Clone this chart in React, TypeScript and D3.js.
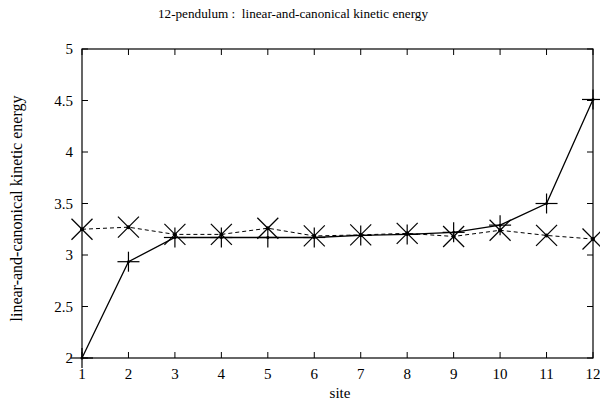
import React from "react";
import * as d3 from "d3";

const sites = [1, 2, 3, 4, 5, 6, 7, 8, 9, 10, 11, 12];
const linearKE = [2.0, 2.935, 3.17, 3.17, 3.17, 3.17, 3.19, 3.2, 3.22, 3.29, 3.5, 4.51];
const canonicalKE = [3.25, 3.27, 3.2, 3.2, 3.26, 3.185, 3.195, 3.21, 3.18, 3.24, 3.19, 3.155];
const yTicks = [2, 2.5, 3, 3.5, 4, 4.5, 5];
const title = "12-pendulum :  linear-and-canonical kinetic energy";
const yLabel = "linear-and-canonical kinetic energy";
const xLabel = "site";

const W = 600, H = 405;
const m = { left: 82, right: 7, top: 49, bottom: 47 };
const FONT = "Liberation Serif";

export default function App() {
  const x = d3.scaleLinear().domain([1, 12]).range([m.left, W - m.right]);
  const y = d3.scaleLinear().domain([2, 5]).range([H - m.bottom, m.top]);
  const line = d3.line<number>().x((_, i) => x(sites[i])).y((d) => y(d));
  const ts = (size: number) => ({ fontFamily: FONT, fontSize: size, whiteSpace: "pre" as const });
  const tl = 6;
  const x0 = x(1), x1 = x(12), y0 = y(2), y1 = y(5);
  return (
    <svg width={W} height={H} style={{ position: "absolute", left: 0, top: 0, background: "#fff" }}>
      <rect width={W} height={H} fill="#fff" />
      <text x={293} y={18} textAnchor="middle" style={ts(13.2)}>{title}</text>
      <rect x={x0} y={y1} width={x1 - x0} height={y0 - y1} fill="none" stroke="#000" strokeWidth={1.2} />
      {sites.map((s) => (
        <g key={"xt" + s}>
          <line x1={x(s)} x2={x(s)} y1={y0} y2={y0 - tl} stroke="#000" />
          <line x1={x(s)} x2={x(s)} y1={y1} y2={y1 + tl} stroke="#000" />
          <text x={x(s)} y={y0 + 21} textAnchor="middle" style={ts(15)}>{s}</text>
        </g>
      ))}
      {yTicks.map((t) => (
        <g key={"yt" + t}>
          <line x1={x0} x2={x0 + tl} y1={y(t)} y2={y(t)} stroke="#000" />
          <line x1={x1} x2={x1 - tl} y1={y(t)} y2={y(t)} stroke="#000" />
          <text x={x0 - 9} y={y(t) + 5} textAnchor="end" style={ts(15)}>{t}</text>
        </g>
      ))}
      <text x={W / 2 + 40} y={398} textAnchor="middle" style={ts(15)}>{xLabel}</text>
      <text transform={`translate(22,${(y0 + y1) / 2 + 5}) rotate(-90)`} textAnchor="middle" style={ts(16)}>{yLabel}</text>
      <path d={line(canonicalKE) || ""} fill="none" stroke="#000" strokeWidth={1} strokeDasharray="4,3" />
      <path d={line(linearKE) || ""} fill="none" stroke="#000" strokeWidth={1.3} />
      {linearKE.map((v, i) => (
        <g key={"p" + i} stroke="#000" strokeWidth={1.2}>
          <line x1={x(sites[i]) - 11} x2={x(sites[i]) + 11} y1={y(v)} y2={y(v)} />
          <line x1={x(sites[i])} x2={x(sites[i])} y1={y(v) - 10} y2={y(v) + 10} />
          <circle cx={x(sites[i])} cy={y(v)} r={1.5} fill="#000" stroke="none" />
        </g>
      ))}
      {canonicalKE.map((v, i) => (
        <g key={"c" + i} stroke="#000" strokeWidth={1.2}>
          <line x1={x(sites[i]) - 10.5} x2={x(sites[i]) + 10.5} y1={y(v) - 10.5} y2={y(v) + 10.5} />
          <line x1={x(sites[i]) - 10.5} x2={x(sites[i]) + 10.5} y1={y(v) + 10.5} y2={y(v) - 10.5} />
          <circle cx={x(sites[i])} cy={y(v)} r={2} fill="#000" stroke="none" />
        </g>
      ))}
    </svg>
  );
}
